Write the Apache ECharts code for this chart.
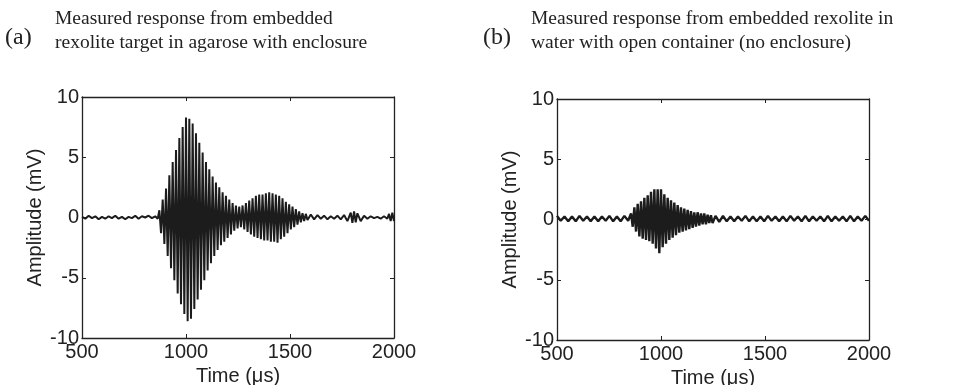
<!DOCTYPE html>
<html>
<head>
<meta charset="utf-8">
<script src="https://cdn.jsdelivr.net/npm/echarts@6/dist/echarts.min.js"></script>
<style>
  html, body { margin: 0; padding: 0; background: #fff; }
  #chart { width: 954px; height: 385px; }
</style>
</head>
<body>
<div id="chart"></div>
<script>
// Panel titles
const titleA = ['Measured response from embedded', 'rexolite target in agarose with enclosure'];
const titleB = ['Measured response from embedded rexolite in', 'water with open container (no enclosure)'];

// Axis ranges / ticks (same for both panels)
const timeRange = [500, 2000];
const timeStep = 500;
const ampRange = [-10, 10];
const ampStep = 5;

// (a) agarose with enclosure: [time us, amplitude mV]
const traceA = [
  [500, 0.05], [516, -0.1], [532, 0.15], [548, -0.05], [564, 0.1], [580, -0.15], [596, 0.05], [612, -0.1],
  [628, 0.1], [644, -0.05], [660, 0.15], [676, -0.1], [692, 0.05], [708, -0.15], [724, 0.05], [740, -0.05],
  [756, 0.15], [772, -0.1], [788, 0.1], [804, 0.0], [820, 0.15], [836, -0.05], [852, 0.1], [864, -0.1],
  [872, 0.6], [880, -1.3], [888, 1.5], [896, -2.2], [904, 2.4], [912, -3.2], [920, 3.5], [928, -4.2],
  [936, 4.6], [944, -5.2], [952, 5.6], [960, -6.3], [968, 6.6], [976, -7.2], [984, 7.5], [992, -8.0],
  [1000, 8.3], [1008, -8.6], [1016, 8.2], [1024, -8.4], [1032, 7.8], [1040, -7.6], [1048, 7.0], [1056, -6.8],
  [1064, 6.2], [1072, -6.0], [1080, 5.4], [1088, -5.2], [1096, 4.6], [1104, -4.4], [1112, 4.0], [1120, -3.8],
  [1128, 3.4], [1136, -3.2], [1144, 2.9], [1152, -2.7], [1160, 2.5], [1168, -2.3], [1176, 2.1], [1184, -2.0],
  [1192, 1.8], [1200, -1.7], [1208, 1.5], [1216, -1.4], [1224, 1.2], [1232, -1.1], [1240, 1.0], [1248, -0.9],
  [1256, 0.9], [1264, -0.8], [1272, 1.0], [1280, -1.0], [1288, 1.2], [1296, -1.2], [1304, 1.4], [1312, -1.4],
  [1320, 1.6], [1328, -1.6], [1336, 1.8], [1344, -1.7], [1352, 1.9], [1360, -1.8], [1368, 1.9], [1376, -1.9],
  [1384, 2.0], [1392, -1.9], [1400, 2.1], [1408, -2.0], [1416, 2.0], [1424, -2.0], [1432, 1.9], [1440, -2.1],
  [1448, 1.8], [1456, -1.8], [1464, 1.6], [1472, -1.6], [1480, 1.3], [1488, -1.3], [1496, 1.1], [1504, -1.0],
  [1512, 0.9], [1520, -0.8], [1528, 0.7], [1536, -0.6], [1544, 0.5], [1552, -0.4], [1560, 0.35], [1568, -0.3],
  [1576, 0.3], [1584, -0.2], [1600, 0.25], [1616, -0.15], [1632, 0.2], [1648, -0.1], [1664, 0.15], [1680, -0.15],
  [1696, 0.1], [1712, -0.1], [1728, 0.15], [1744, -0.15], [1760, 0.2], [1776, -0.3], [1792, 0.4], [1800, -0.45],
  [1808, 0.5], [1816, -0.4], [1824, 0.35], [1840, -0.3], [1856, 0.15], [1872, -0.1], [1888, 0.1], [1904, -0.05],
  [1920, 0.05], [1936, -0.1], [1952, 0.1], [1968, -0.1], [1976, 0.3], [1984, -0.3], [1992, 0.4], [2000, -0.3]
];

// (b) water, open container: [time us, amplitude mV]
const traceB = [
  [500, 0.3], [518, -0.1], [536, 0.25], [554, -0.15], [572, 0.25], [590, -0.15], [608, 0.3], [626, -0.1],
  [644, 0.25], [662, -0.15], [680, 0.25], [698, -0.15], [716, 0.25], [734, -0.1], [752, 0.3], [770, -0.15],
  [788, 0.25], [806, -0.15], [824, 0.3], [842, -0.1],
  [856, 0.5], [864, -0.6], [872, 1.0], [880, -1.0], [888, 1.3], [896, -1.4], [904, 1.5], [912, -1.6],
  [920, 1.8], [928, -1.7], [936, 2.0], [944, -1.8], [952, 2.3], [960, -2.0], [968, 2.5], [976, -2.4],
  [984, 2.5], [992, -2.8], [1000, 2.5], [1008, -2.3], [1016, 2.1], [1024, -2.0], [1032, 1.8], [1040, -1.7],
  [1048, 1.6], [1056, -1.5], [1064, 1.4], [1072, -1.3], [1080, 1.2], [1088, -1.1], [1096, 1.0], [1104, -1.0],
  [1112, 0.9], [1120, -0.9], [1128, 0.8], [1136, -0.8], [1144, 0.7], [1152, -0.7], [1160, 0.6], [1168, -0.6],
  [1176, 0.6], [1184, -0.5], [1192, 0.5], [1200, -0.4], [1208, 0.5], [1216, -0.4], [1224, 0.4], [1232, -0.3],
  [1240, 0.35], [1248, -0.3],
  [1262, 0.3], [1280, -0.2], [1298, 0.3], [1316, -0.15], [1334, 0.25], [1352, -0.15], [1370, 0.25], [1388, -0.1],
  [1406, 0.3], [1424, -0.15], [1442, 0.25], [1460, -0.15], [1478, 0.25], [1496, -0.15], [1514, 0.3], [1532, -0.1],
  [1550, 0.25], [1568, -0.15], [1586, 0.25], [1604, -0.15], [1622, 0.3], [1640, -0.1], [1658, 0.25], [1676, -0.15],
  [1694, 0.3], [1712, -0.15], [1730, 0.25], [1748, -0.1], [1766, 0.25], [1784, -0.15], [1802, 0.3], [1820, -0.15],
  [1838, 0.25], [1856, -0.1], [1874, 0.25], [1892, -0.15], [1910, 0.3], [1928, -0.15], [1946, 0.25], [1964, -0.1],
  [1982, 0.3], [2000, -0.1]
];

const ink = '#222';
const sans = 'Liberation Sans, Arial, sans-serif';
const serif = 'Liberation Serif, Times New Roman, serif';

// bottom/left axes carry labels, top/right are plain mirrors with inside ticks
function xAxes(grid) {
  const base = {
    type: 'value', gridIndex: grid, min: timeRange[0], max: timeRange[1], interval: timeStep,
    axisLine: { onZero: false, lineStyle: { color: ink, width: 1.3 } },
    axisTick: { inside: true, length: 4, lineStyle: { color: ink } },
    splitLine: { show: false }
  };
  return [
    Object.assign({}, base, {
      position: 'bottom',
      axisLabel: { color: ink, fontFamily: sans, fontSize: 20, margin: 4, formatter: v => String(v) },
      name: 'Time (\u03bcs)', nameLocation: 'middle', nameGap: 25,
      nameTextStyle: { color: ink, fontFamily: sans, fontSize: 20 }
    }),
    Object.assign({}, base, { position: 'top', axisLabel: { show: false } })
  ];
}

function yAxes(grid) {
  const base = {
    type: 'value', gridIndex: grid, min: ampRange[0], max: ampRange[1], interval: ampStep,
    axisLine: { show: true, onZero: false, lineStyle: { color: ink, width: 1.3 } },
    axisTick: { show: true, inside: true, length: 4, lineStyle: { color: ink } },
    splitLine: { show: false }
  };
  return [
    Object.assign({}, base, {
      position: 'left',
      axisLabel: { color: ink, fontFamily: sans, fontSize: 20, margin: 3, padding: [0, 0, 6, 0] },
      name: 'Amplitude (mV)', nameLocation: 'middle', nameGap: 37, nameRotate: 90,
      nameTextStyle: { color: ink, fontFamily: sans, fontSize: 20 }
    }),
    Object.assign({}, base, { position: 'right', axisLabel: { show: false } })
  ];
}

function titleText(x, y, lines) {
  return lines.map((s, i) => ({
    type: 'text', left: x, top: y + i * 24,
    style: { text: s, fill: ink, font: '19.5px ' + serif }
  }));
}

const chart = echarts.init(document.getElementById('chart'), null, { renderer: 'canvas' });

chart.setOption({
  animation: false,
  backgroundColor: '#fff',
  grid: [
    { left: 82, top: 97, width: 312, height: 241, outerBoundsMode: 'none' },
    { left: 557, top: 99, width: 312, height: 241, outerBoundsMode: 'none' }
  ],
  xAxis: xAxes(0).concat(xAxes(1)),
  yAxis: yAxes(0).concat(yAxes(1)),
  graphic: [
    { type: 'text', left: 5, top: 26, style: { text: '(a)', fill: ink, font: '24px ' + serif } },
    { type: 'text', left: 483, top: 26, style: { text: '(b)', fill: ink, font: '24px ' + serif } }
  ].concat(titleText(55, 9, titleA), titleText(531, 9, titleB)),
  series: [
    {
      type: 'line', xAxisIndex: 0, yAxisIndex: 0, data: traceA,
      showSymbol: false,
      lineStyle: { color: '#1c1c1c', width: 2 }
    },
    {
      type: 'line', xAxisIndex: 2, yAxisIndex: 2, data: traceB,
      showSymbol: false,
      lineStyle: { color: '#1c1c1c', width: 2.4 }
    }
  ]
});
</script>
</body>
</html>
